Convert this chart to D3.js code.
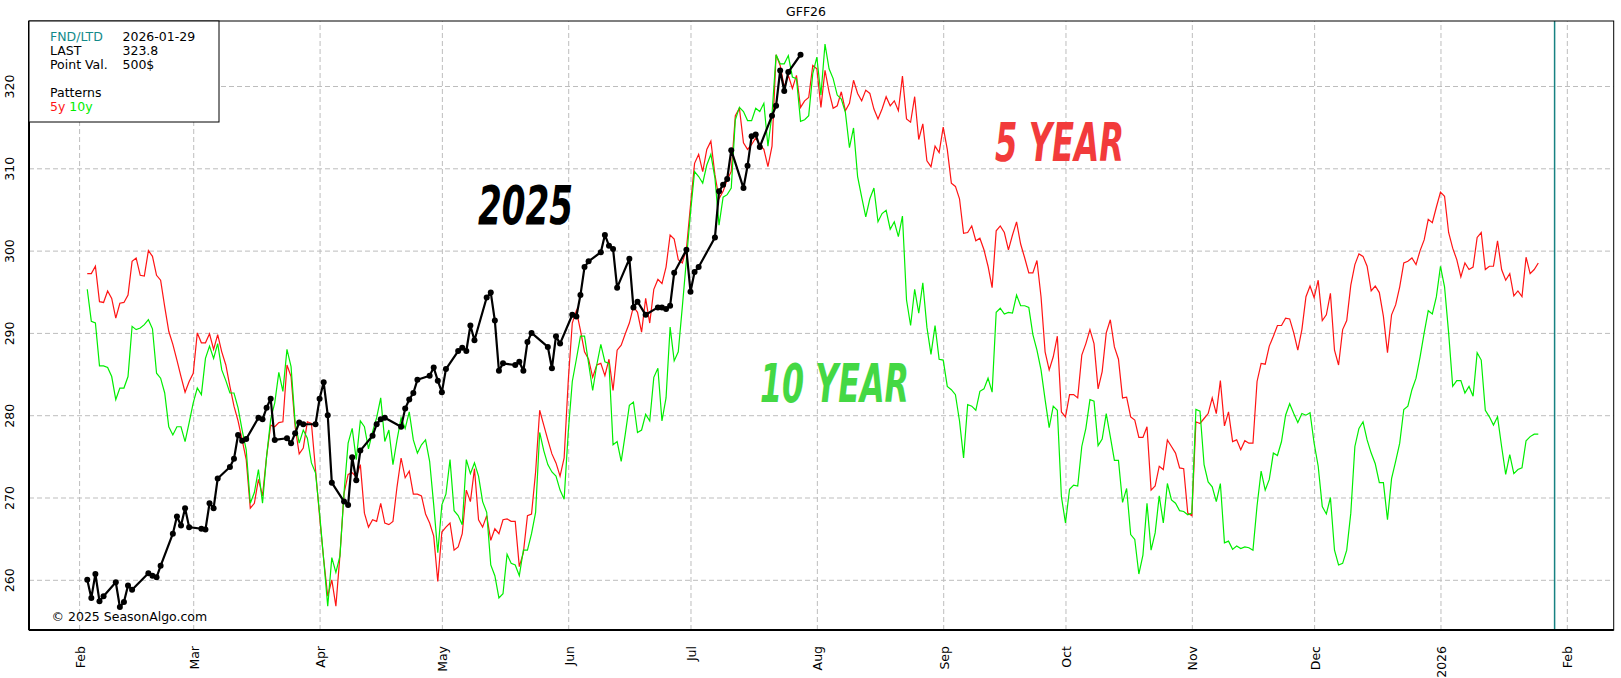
<!DOCTYPE html>
<html>
<head>
<meta charset="utf-8">
<script src="https://cdn.jsdelivr.net/npm/d3@7"></script>
<style>
  body { margin: 0; background: #fff; }
  svg { display: block; font-family: "DejaVu Sans", Verdana, sans-serif; }
</style>
</head>
<body>
<div id="chart"></div>
<script>
// ---- data ----
const title = "GFF26";
const fndDate = "2026-01-29";
const lastPrice = "323.8";
const pointValue = "500$";
const yTicks = [260, 270, 280, 290, 300, 310, 320];

// seasonal patterns, one value per calendar day starting Feb 3, 2025
const patternStart = "2025-02-03";
const fiveYear = [
  297.2, 297.2, 298.1, 293.8, 293.7, 295.1, 294.2, 291.8, 293.6, 293.7,
  294.6, 298.7, 299.1, 297.0, 296.9, 300.0, 299.3, 297.0, 296.4, 293.2,
  290.2, 288.6, 286.7, 284.7, 282.8, 284.1, 285.1, 290.0, 288.8, 288.8,
  289.9, 288.0, 289.8, 287.7, 286.1, 283.5, 281.1, 279.3, 277.0, 274.6,
  268.7, 269.3, 272.2, 270.2, 275.0, 278.8, 278.6, 279.1, 279.2, 286.1,
  284.7, 278.6, 275.3, 276.0, 279.2, 279.0, 273.4, 267.7, 262.5, 258.0,
  260.0, 256.8, 263.0, 270.5, 272.8, 273.0, 272.5, 274.0, 268.1, 266.4,
  267.3, 267.1, 269.3, 266.9, 266.7, 267.1, 271.3, 274.8, 272.4, 273.2,
  270.4, 270.4, 270.2, 268.0, 266.9, 265.3, 259.8, 265.8, 266.4, 266.9,
  263.6, 264.0, 265.6, 270.9, 269.5, 273.5, 267.3, 266.4, 267.8, 264.8,
  266.2, 265.6, 267.3, 267.4, 267.1, 267.1, 261.6, 263.3, 267.8, 268.0,
  273.1, 280.6, 278.8, 277.0, 275.3, 274.2, 272.6, 274.8, 284.1, 291.2,
  292.7, 290.3, 287.7, 286.8, 284.6, 286.1, 286.3, 284.8, 286.8, 283.0,
  287.9, 288.5, 289.9, 291.2, 293.2, 292.5, 290.1, 294.2, 291.2, 295.3,
  296.5, 296.0, 298.0, 301.9, 301.4, 298.9, 298.5, 300.2, 305.5, 310.6,
  311.7, 309.6, 312.3, 313.3, 309.2, 306.3, 307.2, 308.6, 309.6, 316.4,
  317.3, 313.1, 312.3, 312.9, 313.7, 312.9, 312.3, 310.2, 312.7, 323.8,
  322.5, 319.9, 321.3, 319.7, 321.3, 317.4, 318.2, 318.6, 322.5, 322.1,
  317.4, 321.9, 319.3, 317.3, 317.6, 319.3, 317.0, 317.9, 320.7, 319.1,
  318.2, 319.5, 319.1, 317.2, 316.0, 317.2, 318.7, 317.6, 318.2, 317.0,
  321.2, 316.0, 315.6, 318.7, 313.5, 315.4, 310.9, 310.2, 312.7, 311.9,
  315.0, 312.3, 308.2, 307.8, 306.3, 302.1, 302.2, 303.0, 301.2, 301.5,
  300.1, 298.1, 295.5, 302.4, 303.0, 302.2, 300.1, 301.9, 303.5, 300.8,
  299.1, 297.3, 297.3, 298.8, 294.4, 287.7, 285.5, 287.1, 289.6, 280.4,
  279.8, 282.5, 282.5, 282.1, 287.3, 288.7, 290.4, 288.7, 283.2, 285.3,
  290.0, 291.6, 288.3, 286.8, 282.1, 282.2, 279.8, 279.4, 277.3, 277.3,
  278.6, 270.9, 271.4, 273.8, 273.4, 277.0, 276.2, 275.4, 273.6, 273.5,
  268.1, 267.8, 279.2, 279.0, 279.6, 280.2, 282.1, 280.2, 284.2, 278.7,
  280.4, 276.8, 277.0, 275.8, 276.9, 276.6, 276.6, 284.1, 286.3, 286.2,
  288.4, 289.6, 290.9, 290.9, 291.8, 291.7, 290.0, 287.9, 290.4, 294.4,
  295.7, 294.3, 296.4, 291.5, 292.2, 294.8, 287.9, 286.1, 290.4, 291.5,
  295.8, 298.3, 299.6, 299.3, 298.1, 295.1, 295.7, 294.9, 292.0, 287.6,
  292.2, 293.4, 295.6, 298.5, 298.7, 299.1, 298.3, 300.0, 301.3, 303.8,
  303.4, 305.3, 307.1, 306.6, 302.2, 300.3, 298.9, 296.8, 298.5, 297.7,
  298.0, 301.6, 302.2, 297.7, 298.1, 298.1, 301.2, 297.7, 296.4, 297.2,
  294.5, 295.1, 294.4, 299.2, 297.2, 297.7, 298.5
];
const tenYear = [
  295.3, 291.4, 291.2, 286.0, 286.0, 285.8, 284.7, 281.9, 283.3, 283.3,
  284.7, 290.8, 290.4, 290.6, 291.0, 291.6, 290.5, 285.1, 284.5, 282.7,
  278.6, 277.6, 278.6, 278.6, 276.8, 279.1, 281.5, 283.3, 282.5, 286.9,
  288.4, 286.9, 288.7, 285.5, 284.2, 282.7, 282.7, 280.9, 278.2, 275.8,
  269.3, 270.6, 273.4, 269.3, 275.0, 279.5, 281.5, 285.2, 282.9, 288.0,
  285.9, 279.1, 276.6, 278.2, 277.2, 274.2, 273.0, 268.1, 262.5, 256.8,
  262.7, 260.9, 262.9, 270.6, 276.6, 278.4, 274.6, 279.3, 278.6, 275.9,
  278.0, 279.7, 282.1, 276.8, 278.2, 274.0, 277.0, 279.7, 278.4, 280.4,
  277.0, 275.4, 276.4, 277.0, 274.4, 269.1, 263.3, 269.1, 270.4, 274.6,
  268.4, 267.8, 266.7, 274.6, 272.9, 274.2, 272.6, 269.5, 268.2, 261.8,
  260.5, 257.8, 258.3, 263.1, 262.0, 261.8, 260.5, 263.6, 263.6, 265.6,
  268.2, 277.9, 275.7, 274.0, 273.1, 272.6, 270.9, 269.8, 277.9, 284.1,
  286.8, 289.6, 289.6, 286.3, 283.0, 286.1, 288.6, 286.5, 286.3, 276.4,
  276.8, 274.4, 277.7, 281.2, 281.6, 277.9, 278.2, 280.1, 279.3, 284.6,
  285.7, 279.3, 282.1, 290.7, 286.6, 287.7, 293.2, 298.9, 304.6, 309.6,
  309.0, 308.2, 310.4, 311.7, 308.8, 303.1, 306.5, 306.8, 307.6, 315.9,
  317.4, 316.9, 315.8, 315.8, 317.3, 316.9, 317.9, 312.7, 316.6, 323.8,
  322.7, 322.7, 323.7, 321.1, 320.9, 315.7, 315.9, 316.4, 321.5, 323.5,
  318.9, 325.1, 322.1, 320.9, 318.9, 318.4, 316.8, 312.5, 314.9, 309.0,
  306.5, 304.1, 306.3, 307.6, 303.5, 304.5, 304.9, 302.6, 303.5, 301.7,
  304.2, 294.0, 290.9, 295.3, 292.4, 296.1, 290.7, 287.4, 290.9, 286.8,
  286.7, 283.5, 283.1, 282.5, 279.3, 274.8, 281.3, 281.1, 280.6, 282.9,
  283.2, 284.5, 282.8, 292.5, 293.0, 292.3, 292.5, 292.4, 294.6, 293.3,
  293.3, 293.1, 289.8, 287.9, 285.5, 281.9, 278.5, 281.1, 280.6, 270.1,
  266.9, 271.0, 271.5, 271.4, 276.2, 278.4, 281.9, 281.7, 276.3, 277.1,
  280.2, 277.4, 274.5, 274.5, 269.4, 271.1, 265.5, 264.9, 260.7, 263.0,
  269.3, 263.6, 265.7, 270.2, 266.9, 271.7, 269.7, 269.3, 268.4, 268.3,
  267.9, 268.1, 280.7, 280.5, 274.0, 271.9, 271.3, 269.5, 271.7, 264.5,
  264.7, 263.7, 264.1, 263.8, 264.0, 263.9, 263.6, 269.0, 273.2, 270.9,
  272.2, 275.4, 275.1, 276.8, 280.0, 281.4, 280.2, 279.1, 280.2, 280.0,
  280.3, 276.6, 273.8, 268.9, 268.0, 270.0, 263.6, 261.8, 262.0, 263.6,
  268.1, 276.2, 278.4, 279.2, 277.0, 275.4, 274.1, 271.8, 271.8, 267.3,
  272.3, 274.4, 276.6, 280.7, 281.1, 283.1, 284.5, 287.1, 290.0, 292.7,
  292.3, 294.4, 298.1, 295.6, 290.0, 283.5, 284.2, 284.2, 282.7, 283.5,
  282.3, 287.6, 286.7, 280.6, 279.8, 278.8, 279.8, 276.2, 272.8, 275.2,
  272.9, 273.4, 273.6, 276.9, 277.4, 277.7, 277.7
];

// 2025 daily settlements (trading days)
const dates2025 = [
  "2025-02-03","2025-02-04","2025-02-05","2025-02-06","2025-02-07",
  "2025-02-10","2025-02-11","2025-02-12","2025-02-13","2025-02-14",
  "2025-02-18","2025-02-19","2025-02-20","2025-02-21",
  "2025-02-24","2025-02-25","2025-02-26","2025-02-27","2025-02-28",
  "2025-03-03","2025-03-04","2025-03-05","2025-03-06","2025-03-07",
  "2025-03-10","2025-03-11","2025-03-12","2025-03-13","2025-03-14",
  "2025-03-17","2025-03-18","2025-03-19","2025-03-20","2025-03-21",
  "2025-03-24","2025-03-25","2025-03-26","2025-03-27","2025-03-28",
  "2025-03-31","2025-04-01","2025-04-02","2025-04-03","2025-04-04",
  "2025-04-07","2025-04-08","2025-04-09","2025-04-10","2025-04-11",
  "2025-04-14","2025-04-15","2025-04-16","2025-04-17",
  "2025-04-21","2025-04-22","2025-04-23","2025-04-24","2025-04-25",
  "2025-04-28","2025-04-29","2025-04-30","2025-05-01","2025-05-02",
  "2025-05-05","2025-05-06","2025-05-07","2025-05-08","2025-05-09",
  "2025-05-12","2025-05-13","2025-05-14","2025-05-15","2025-05-16",
  "2025-05-19","2025-05-20","2025-05-21","2025-05-22","2025-05-23",
  "2025-05-27","2025-05-28","2025-05-29","2025-05-30",
  "2025-06-02","2025-06-03","2025-06-04","2025-06-05","2025-06-06",
  "2025-06-09","2025-06-10","2025-06-11","2025-06-12","2025-06-13",
  "2025-06-16","2025-06-17","2025-06-18","2025-06-20",
  "2025-06-23","2025-06-24","2025-06-25","2025-06-26","2025-06-27",
  "2025-06-30","2025-07-01","2025-07-02","2025-07-03",
  "2025-07-07","2025-07-08","2025-07-09","2025-07-10","2025-07-11",
  "2025-07-14","2025-07-15","2025-07-16","2025-07-17","2025-07-18",
  "2025-07-21","2025-07-22","2025-07-23","2025-07-24","2025-07-25",
  "2025-07-28"
];
const values2025 = [
  260.0, 257.8, 260.7, 257.4, 258.0,
  259.7, 256.7, 257.3, 259.3, 258.8,
  260.8, 260.5, 260.3, 261.7,
  265.6, 267.7, 266.6, 268.7, 266.4,
  266.2, 266.1, 269.3, 268.7, 272.3,
  273.7, 274.7, 277.6, 276.9, 277.1,
  279.7, 279.5, 280.9, 282.0, 277.0,
  277.2, 276.6, 277.8, 279.1, 278.9,
  278.9, 282.0, 284.0, 280.0, 271.8,
  269.5, 269.1, 274.9, 272.1, 275.7,
  277.5, 278.9, 279.5, 279.7,
  278.6, 280.8, 281.9, 282.7, 284.3,
  284.8, 285.8, 284.2, 282.8, 285.6,
  287.8, 288.2, 287.8, 290.9, 289.1,
  294.3, 294.9, 291.5, 285.4, 286.3,
  286.1, 286.5, 285.4, 288.9, 290.0,
  288.3, 285.7, 289.6, 288.7,
  292.2, 292.0, 294.6, 298.0, 298.7,
  299.8, 301.9, 300.6, 300.2, 295.5,
  299.0, 293.1, 293.8, 292.2,
  293.1, 293.1, 292.9, 293.3, 297.3,
  300.1, 295.0, 297.4, 298.0,
  301.6, 307.2, 308.0, 308.7, 312.2,
  307.6, 310.3, 313.9, 314.1, 312.6,
  316.4, 317.6, 321.9, 319.4, 321.7,
  323.8
];

// ---- layout ----
const W = 1621, H = 678;
const margin = { top: 21, right: 7.3, bottom: 48, left: 29 };
const width = W - margin.left - margin.right;
const height = H - margin.top - margin.bottom;

const parseDate = d3.timeParse("%Y-%m-%d");
const redColor = "#ff1414";
const greenColor = "#00ee00";

const svg = d3.select("#chart").append("svg")
  .attr("width", W)
  .attr("height", H);

const g = svg.append("g")
  .attr("transform", `translate(${margin.left},${margin.top})`);

// scales
const xScale = d3.scaleTime()
  .domain([new Date(2025, 0, 19, 17), new Date(2026, 1, 12, 12)])
  .range([0, width]);
const yScale = d3.scaleLinear()
  .domain([253.9, 327.9])
  .range([height, 0]);

// grid
g.append("g")
  .attr("class", "grid")
  .attr("transform", `translate(0,${height})`)
  .call(d3.axisBottom(xScale).ticks(d3.timeMonth.every(1)).tickSize(-height).tickFormat(""))
  .call(s => s.select(".domain").remove());
g.append("g")
  .attr("class", "grid")
  .call(d3.axisLeft(yScale).tickValues(yTicks).tickSize(-width).tickFormat(""))
  .call(s => s.select(".domain").remove());
g.selectAll(".grid line")
  .attr("stroke", "#bdbdbd")
  .attr("stroke-width", 1)
  .attr("stroke-dasharray", "5,3");

// axes labels (rotated)
const monthFmt = d => d.getMonth() === 0 ? d3.timeFormat("%Y")(d) : d3.timeFormat("%b")(d);
g.append("g")
  .attr("transform", `translate(0,${height})`)
  .call(d3.axisBottom(xScale).ticks(d3.timeMonth.every(1)).tickFormat(monthFmt).tickSize(0))
  .call(s => s.select(".domain").remove())
  .call(s => s.selectAll("text")
    .attr("x", 0).attr("y", 0).attr("dy", null)
    .attr("text-anchor", "end")
    .attr("transform", "translate(5,16) rotate(-90)")
    .attr("font-size", 12.5)
    .attr("font-family", "DejaVu Sans, sans-serif")
    .attr("fill", "#000"));

g.append("g")
  .call(d3.axisLeft(yScale).tickValues(yTicks).tickSize(0))
  .call(s => s.select(".domain").remove())
  .call(s => s.selectAll("text")
    .attr("x", 0).attr("y", 0).attr("dy", null)
    .attr("text-anchor", "middle")
    .attr("transform", "translate(-15.5,0) rotate(-90)")
    .attr("font-size", 12.5)
    .attr("font-family", "DejaVu Sans, sans-serif")
    .attr("fill", "#000"));

// first notice / last trading day marker
g.append("line")
  .attr("x1", xScale(parseDate(fndDate))).attr("x2", xScale(parseDate(fndDate)))
  .attr("y1", 0).attr("y2", height)
  .attr("stroke", "#178282")
  .attr("stroke-width", 1.5);

// patterns
const start = parseDate(patternStart);
const toSeries = vals => vals.map((v, i) => ({ date: d3.timeDay.offset(start, i), value: v }));
const line = d3.line()
  .x(d => xScale(d.date))
  .y(d => yScale(d.value));

g.append("path")
  .datum(toSeries(fiveYear))
  .attr("fill", "none")
  .attr("stroke", redColor)
  .attr("stroke-width", 1.2)
  .attr("d", line);

g.append("path")
  .datum(toSeries(tenYear))
  .attr("fill", "none")
  .attr("stroke", greenColor)
  .attr("stroke-width", 1.2)
  .attr("d", line);

// 2025 series
const current = dates2025.map((d, i) => ({ date: parseDate(d), value: values2025[i] }));
g.append("path")
  .datum(current)
  .attr("fill", "none")
  .attr("stroke", "#000")
  .attr("stroke-width", 2.2)
  .attr("stroke-linejoin", "round")
  .attr("d", line);
g.selectAll(".dot")
  .data(current)
  .enter().append("circle")
  .attr("class", "dot")
  .attr("cx", d => xScale(d.date))
  .attr("cy", d => yScale(d.value))
  .attr("r", 3)
  .attr("fill", "#000");

// big labels
const bigFont = "'Liberation Sans Narrow', 'DejaVu Sans Condensed', 'Liberation Sans', sans-serif";
const bigLabels = [
  { text: "2025", x: 478, y: 224, len: 95, color: "#000" },
  { text: "5 YEAR", x: 995, y: 161, len: 129, color: "#f23b3b" },
  { text: "10 YEAR", x: 760, y: 401.5, len: 149, color: "#44d844" }
];
svg.selectAll(".big")
  .data(bigLabels)
  .enter().append("text")
  .attr("class", "big")
  .attr("x", d => d.x)
  .attr("y", d => d.y)
  .attr("textLength", d => d.len)
  .attr("lengthAdjust", "spacingAndGlyphs")
  .attr("font-family", bigFont)
  .attr("font-weight", "bold")
  .attr("font-style", "italic")
  .attr("font-size", 53)
  .attr("fill", d => d.color)
  .text(d => d.text);

// frame
g.append("rect")
  .attr("width", width).attr("height", height)
  .attr("fill", "none")
  .attr("stroke", "#000")
  .attr("stroke-width", 1);
g.append("line").attr("x1", 0).attr("x2", 0).attr("y1", 0).attr("y2", height)
  .attr("stroke", "#000").attr("stroke-width", 2);
g.append("line").attr("x1", 0).attr("x2", width).attr("y1", height).attr("y2", height)
  .attr("stroke", "#000").attr("stroke-width", 2);

// info box
svg.append("rect")
  .attr("x", 29).attr("y", 21).attr("width", 190).attr("height", 101)
  .attr("fill", "#fff").attr("stroke", "#000").attr("stroke-width", 1);
const info = svg.append("g").attr("font-size", 12.5).attr("fill", "#000");
const infoRows = [
  { label: "FND/LTD", value: fndDate, y: 41, color: "#128a8a" },
  { label: "LAST", value: lastPrice, y: 55, color: "#000" },
  { label: "Point Val.", value: pointValue, y: 69, color: "#000" },
  { label: "Patterns", value: "", y: 97, color: "#000" }
];
infoRows.forEach(r => {
  info.append("text").attr("x", 50).attr("y", r.y).attr("fill", r.color).text(r.label);
  info.append("text").attr("x", 122.5).attr("y", r.y).text(r.value);
});
const legendText = info.append("text").attr("x", 50).attr("y", 111);
legendText.append("tspan").attr("fill", redColor).text("5y ");
legendText.append("tspan").attr("fill", greenColor).text("10y");

// title and copyright
svg.append("text")
  .attr("x", 806).attr("y", 16)
  .attr("text-anchor", "middle")
  .attr("font-size", 12.5)
  .text(title);
svg.append("text")
  .attr("x", 51.5).attr("y", 621)
  .attr("font-size", 12.5)
  .text("\u00a9 2025 SeasonAlgo.com");
</script>
</body>
</html>
